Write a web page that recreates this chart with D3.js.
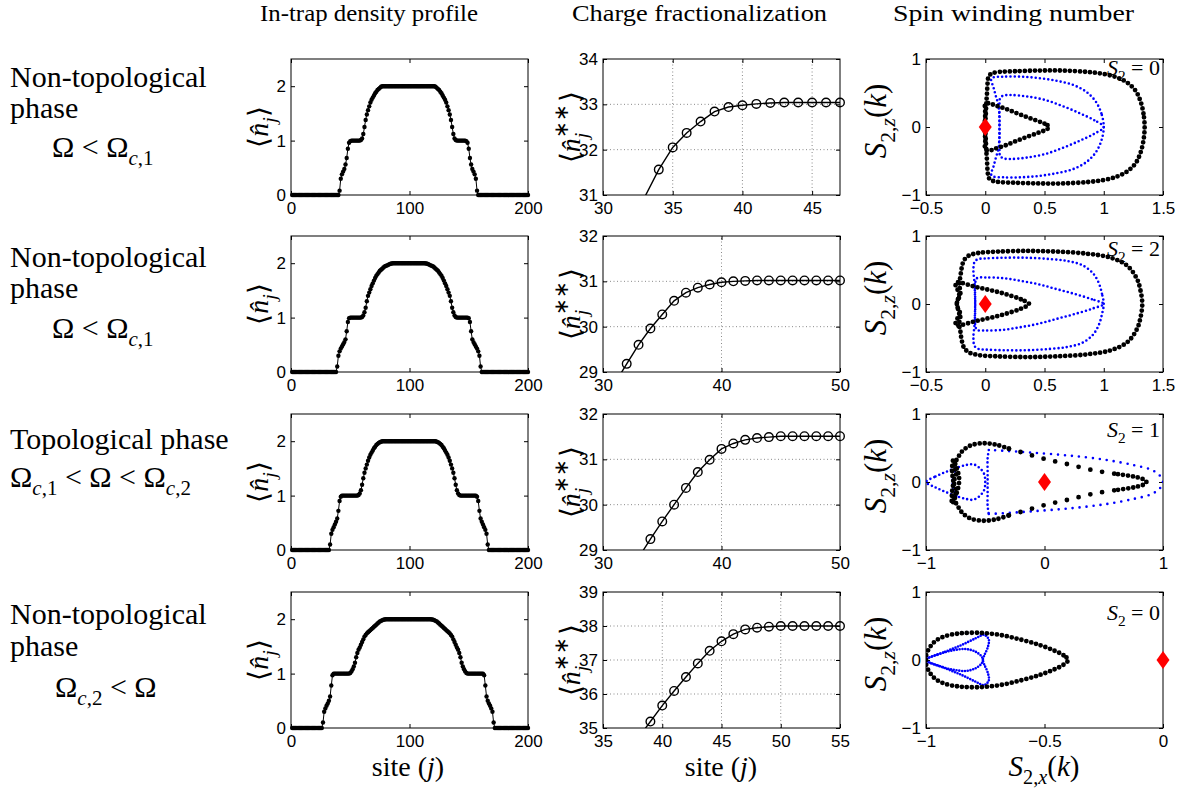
<!DOCTYPE html>
<html><head><meta charset="utf-8">
<script src="https://cdn.jsdelivr.net/npm/d3@7"></script>
<style>body{margin:0;background:#fff}svg{display:block}</style>
</head><body><svg id="fig" width="1181" height="788"></svg>
<script>
// ---- In-trap density profiles <n_j>, sites 1..200 ----
const sites = d3.range(1, 201);
const density1 = [
0,0,0,0,0,0,0,0,0,0,0,0,0,0,0,0,0,0,0,0,
0,0,0,0,0,0,0,0,0,0,0,0,0,0,0,0,0,0,0,0,
0.08,0.3,0.38,0.43,0.48,0.56,0.68,0.85,0.96,0.99,1,1,1,1,1,1,1,1,1.01,1.04,
1.12,1.25,1.38,1.48,1.56,1.63,1.7,1.75,1.79,1.83,1.87,1.9,1.93,1.95,1.97,1.99,2,2,2,2,
2,2,2,2,2,2,2,2,2,2,2,2,2,2,2,2,2,2,2,2,
2,2,2,2,2,2,2,2,2,2,2,2,2,2,2,2,2,2,2,2,
2,1.99,1.97,1.95,1.93,1.9,1.87,1.83,1.79,1.75,1.7,1.63,1.56,1.48,1.38,1.25,1.12,1.04,1.01,1,
1,1,1,1,1,1,1,0.99,0.96,0.85,0.68,0.56,0.48,0.43,0.38,0.3,0.08,0,0,0,
0,0,0,0,0,0,0,0,0,0,0,0,0,0,0,0,0,0,0,0,
0,0,0,0,0,0,0,0,0,0,0,0,0,0,0,0,0,0,0,0];
const density2 = [
0,0,0,0,0,0,0,0,0,0,0,0,0,0,0,0,0,0,0,0,
0,0,0,0,0,0,0,0,0,0,0,0,0,0,0,0,0,0,0.1,0.3,
0.38,0.43,0.47,0.51,0.55,0.6,0.75,0.92,0.99,1,1,1,1,1,1,1,1,1,1,1.01,
1.04,1.1,1.18,1.3,1.4,1.46,1.52,1.58,1.63,1.68,1.73,1.77,1.8,1.83,1.86,1.88,1.9,1.92,1.94,1.95,
1.96,1.97,1.98,1.99,1.995,2,2,2,2,2,2,2,2,2,2,2,2,2,2,2,
2,2,2,2,2,2,2,2,2,2,2,2,2,1.995,1.99,1.98,1.97,1.96,1.95,1.94,
1.92,1.9,1.88,1.86,1.83,1.8,1.77,1.73,1.68,1.63,1.58,1.52,1.46,1.4,1.3,1.18,1.1,1.04,1.01,1,
1,1,1,1,1,1,1,1,1,0.99,0.92,0.75,0.6,0.55,0.51,0.47,0.43,0.38,0.3,0.1,
0,0,0,0,0,0,0,0,0,0,0,0,0,0,0,0,0,0,0,0,
0,0,0,0,0,0,0,0,0,0,0,0,0,0,0,0,0,0,0,0];
const density3 = [
0,0,0,0,0,0,0,0,0,0,0,0,0,0,0,0,0,0,0,0,
0,0,0,0,0,0,0,0,0,0,0,0,0.1,0.3,0.37,0.42,0.47,0.52,0.58,0.72,
0.9,0.98,1,1,1,1,1,1,1,1,1,1,1,1,1,1,1.01,1.04,1.1,1.2,
1.32,1.42,1.5,1.57,1.64,1.7,1.75,1.79,1.83,1.87,1.9,1.93,1.95,1.97,1.98,1.99,2,2,2,2,
2,2,2,2,2,2,2,2,2,2,2,2,2,2,2,2,2,2,2,2,
2,2,2,2,2,2,2,2,2,2,2,2,2,2,2,2,2,2,2,2,
2,2,1.99,1.98,1.97,1.95,1.93,1.9,1.87,1.83,1.79,1.75,1.7,1.64,1.57,1.5,1.42,1.32,1.2,1.1,
1.04,1.01,1,1,1,1,1,1,1,1,1,1,1,1,1,1,0.98,0.9,0.72,0.58,
0.52,0.47,0.42,0.37,0.3,0.1,0,0,0,0,0,0,0,0,0,0,0,0,0,0,
0,0,0,0,0,0,0,0,0,0,0,0,0,0,0,0,0,0,0,0];
const density4 = [
0,0,0,0,0,0,0,0,0,0,0,0,0,0,0,0,0,0,0,0,
0,0,0,0,0,0,0.1,0.3,0.36,0.41,0.45,0.5,0.58,0.78,0.97,1,1,1,1,1,
1,1,1,1,1,1,1,1,1,1.01,1.04,1.08,1.13,1.2,1.3,1.38,1.44,1.48,1.53,1.58,
1.63,1.68,1.71,1.74,1.76,1.78,1.8,1.82,1.84,1.86,1.88,1.9,1.92,1.94,1.96,1.97,1.98,1.99,1.995,2,
2,2,2,2,2,2,2,2,2,2,2,2,2,2,2,2,2,2,2,2,
2,2,2,2,2,2,2,2,2,2,2,2,2,2,2,2,2,2,1.995,1.99,
1.98,1.97,1.96,1.94,1.92,1.9,1.88,1.86,1.84,1.82,1.8,1.78,1.76,1.74,1.71,1.68,1.63,1.58,1.53,1.48,
1.44,1.38,1.3,1.2,1.13,1.08,1.04,1.01,1,1,1,1,1,1,1,1,1,1,1,1,
1,1,0.97,0.78,0.58,0.5,0.45,0.41,0.36,0.3,0.1,0,0,0,0,0,0,0,0,0,
0,0,0,0,0,0,0,0,0,0,0,0,0,0,0,0,0,0,0,0];

// ---- Charge fractionalization <n_j**> ----
const fracSites1 = d3.range(33, 48);
const frac1 = [30.96,31.56,32.05,32.37,32.62,32.84,32.94,32.98,33.01,33.03,33.04,33.04,33.04,33.04,33.04];
const fracSites2 = d3.range(31, 51);
const frac2 = [28.75,29.18,29.6,29.96,30.27,30.57,30.75,30.86,30.93,30.98,31.0,31.01,31.02,31.02,31.02,31.02,31.02,31.02,31.02,31.02];
const fracSites3 = d3.range(33, 51);
const frac3 = [28.83,29.24,29.63,30.0,30.37,30.72,30.99,31.23,31.35,31.43,31.47,31.49,31.51,31.51,31.51,31.51,31.51,31.51];
const fracSites4 = d3.range(38, 56);
const frac4 = [34.72,35.19,35.66,36.09,36.5,36.9,37.27,37.55,37.76,37.9,37.95,37.98,38.0,38.0,38.0,38.0,38.0,38.0];

// ---- Spin winding curves (S_2,x , S_2,z) ----
const black1a = [[1.345,0],[1.335,0.2],[1.31,0.38],[1.27,0.53],[1.2,0.65],[1.11,0.73],[1.0,0.78],[0.86,0.81],[0.65,0.83],[0.45,0.83],[0.25,0.82],[0.12,0.81],[0.06,0.79],[0.03,0.75],[0.02,0.65],[0.015,0.5],[0.01,0.38],[0.005,0.2],[0.0,0],[0.005,-0.2],[0.01,-0.38],[0.015,-0.5],[0.02,-0.65],[0.03,-0.75],[0.06,-0.79],[0.12,-0.81],[0.25,-0.82],[0.45,-0.83],[0.65,-0.83],[0.86,-0.81],[1.0,-0.78],[1.11,-0.73],[1.2,-0.65],[1.27,-0.53],[1.31,-0.38],[1.335,-0.2]];
const black1b = [[0.54,0],[0.5,0.05],[0.44,0.09],[0.36,0.14],[0.27,0.2],[0.17,0.27],[0.08,0.32],[0.03,0.35],[0.0,0.33],[0.0,0.2],[-0.005,0],[0.0,-0.2],[0.0,-0.33],[0.03,-0.35],[0.08,-0.32],[0.17,-0.27],[0.27,-0.2],[0.36,-0.14],[0.44,-0.09],[0.5,-0.05]];
const blue1a = [[1.0,0],[0.98,0.2],[0.93,0.38],[0.85,0.52],[0.74,0.62],[0.6,0.68],[0.45,0.72],[0.3,0.74],[0.15,0.74],[0.07,0.73],[0.05,0.7],[0.07,0.58],[0.09,0.45],[0.11,0.33],[0.12,0.15],[0.12,0],[0.12,-0.15],[0.11,-0.33],[0.09,-0.45],[0.07,-0.58],[0.05,-0.7],[0.07,-0.73],[0.15,-0.74],[0.3,-0.74],[0.45,-0.72],[0.6,-0.68],[0.74,-0.62],[0.85,-0.52],[0.93,-0.38],[0.98,-0.2]];
const blue1b = [[1.0,0],[0.92,0.1],[0.8,0.2],[0.65,0.31],[0.5,0.4],[0.35,0.45],[0.22,0.47],[0.15,0.46],[0.125,0.42],[0.12,0.3],[0.12,0],[0.12,-0.3],[0.125,-0.42],[0.15,-0.46],[0.22,-0.47],[0.35,-0.45],[0.5,-0.4],[0.65,-0.31],[0.8,-0.2],[0.92,-0.1]];

const black2a = [[1.325,0],[1.31,0.2],[1.28,0.37],[1.2,0.56],[1.06,0.68],[0.86,0.74],[0.6,0.77],[0.35,0.78],[0.1,0.77],[-0.06,0.75],[-0.14,0.71],[-0.18,0.64],[-0.2,0.52],[-0.21,0.4],[-0.22,0.3],[-0.21,0.15],[-0.24,0],[-0.21,-0.15],[-0.22,-0.3],[-0.21,-0.4],[-0.2,-0.52],[-0.18,-0.64],[-0.14,-0.71],[-0.06,-0.75],[0.1,-0.77],[0.35,-0.78],[0.6,-0.77],[0.86,-0.74],[1.06,-0.68],[1.2,-0.56],[1.28,-0.37],[1.31,-0.2]];
const black2b = [[0.37,0],[0.3,0.07],[0.2,0.13],[0.1,0.18],[0.0,0.22],[-0.1,0.26],[-0.2,0.31],[-0.245,0.32],[-0.25,0.27],[-0.22,0.15],[-0.24,0],[-0.22,-0.15],[-0.25,-0.27],[-0.245,-0.32],[-0.2,-0.31],[-0.1,-0.26],[0.0,-0.22],[0.1,-0.18],[0.2,-0.13],[0.3,-0.07]];
const blue2a = [[1.0,0],[0.985,0.15],[0.96,0.3],[0.91,0.45],[0.82,0.57],[0.7,0.63],[0.55,0.66],[0.35,0.68],[0.15,0.68],[0.0,0.67],[-0.06,0.66],[-0.09,0.62],[-0.1,0.5],[-0.09,0.3],[-0.085,0.1],[-0.085,-0.1],[-0.09,-0.3],[-0.1,-0.5],[-0.09,-0.62],[-0.06,-0.66],[0.0,-0.67],[0.15,-0.68],[0.35,-0.68],[0.55,-0.66],[0.7,-0.63],[0.82,-0.57],[0.91,-0.45],[0.96,-0.3],[0.985,-0.15]];
const blue2b = [[1.0,0],[0.9,0.07],[0.75,0.15],[0.6,0.22],[0.45,0.29],[0.3,0.34],[0.15,0.38],[0.0,0.39],[-0.07,0.38],[-0.085,0.3],[-0.085,0],[-0.085,-0.3],[-0.07,-0.38],[0.0,-0.39],[0.15,-0.38],[0.3,-0.34],[0.45,-0.29],[0.6,-0.22],[0.75,-0.15],[0.9,-0.07]];

// topological case: dense near the left knot, sparse along the long upper/lower arms
const black3left = [[-0.3,0.49],[-0.4,0.545],[-0.51,0.57],[-0.62,0.54],[-0.69,0.46],[-0.73,0.36],[-0.76,0.25],[-0.745,0.12],[-0.765,0],[-0.745,-0.12],[-0.76,-0.25],[-0.73,-0.36],[-0.69,-0.46],[-0.62,-0.54],[-0.51,-0.57],[-0.4,-0.545],[-0.3,-0.49]];
const black3upper = [[-0.3,0.49],[-0.2,0.44],[0.0,0.34],[0.2,0.26],[0.42,0.17],[0.62,0.115]];
const black3lower = [[-0.3,-0.49],[-0.2,-0.44],[0.0,-0.34],[0.2,-0.26],[0.42,-0.17],[0.62,-0.115]];
const black3tip = [[0.62,0.115],[0.72,0.09],[0.79,0.065],[0.84,0.035],[0.86,0],[0.84,-0.035],[0.79,-0.065],[0.72,-0.09],[0.62,-0.115]];
const black3knot = [[-0.77,0.32],[-0.74,0.2],[-0.72,0.05],[-0.73,-0.1],[-0.76,-0.25],[-0.78,-0.32],[-0.78,-0.15],[-0.77,0],[-0.78,0.15]];
const blue3arm = [[-0.47,-0.47],[-0.35,-0.46],[-0.1,-0.43],[0.2,-0.39],[0.5,-0.33],[0.75,-0.25],[0.9,-0.18],[0.97,-0.1],[1.0,0],[0.97,0.1],[0.9,0.18],[0.75,0.25],[0.5,0.33],[0.2,0.39],[-0.1,0.43],[-0.35,0.46],[-0.47,0.47]];
const blue3bar = [[-0.47,0.47],[-0.48,0.35],[-0.48,0.15],[-0.48,0],[-0.48,-0.15],[-0.48,-0.35],[-0.47,-0.47]];
const blue3lens = [[-1,0],[-0.92,0.08],[-0.83,0.15],[-0.74,0.21],[-0.66,0.25],[-0.6,0.26],[-0.55,0.21],[-0.51,0.12],[-0.5,0],[-0.51,-0.12],[-0.55,-0.21],[-0.6,-0.26],[-0.66,-0.25],[-0.74,-0.21],[-0.83,-0.15],[-0.92,-0.08]];
const blue3inner = [[-0.74,0.21],[-0.77,0.1],[-0.775,0],[-0.77,-0.1],[-0.74,-0.21]];

const black4a = [[-0.4,0],[-0.42,0.07],[-0.46,0.14],[-0.52,0.22],[-0.6,0.3],[-0.69,0.37],[-0.78,0.4],[-0.86,0.39],[-0.92,0.35],[-0.96,0.28],[-0.985,0.18],[-1,0.06],[-1,0],[-1,-0.06],[-0.985,-0.18],[-0.96,-0.28],[-0.92,-0.35],[-0.86,-0.39],[-0.78,-0.4],[-0.69,-0.37],[-0.6,-0.3],[-0.52,-0.22],[-0.46,-0.14],[-0.42,-0.07]];
const blue4a = [[-1,0],[-0.92,0.12],[-0.85,0.22],[-0.79,0.32],[-0.755,0.37],[-0.735,0.3],[-0.74,0.18],[-0.755,0.06],[-0.76,0],[-0.755,-0.06],[-0.74,-0.18],[-0.735,-0.3],[-0.755,-0.37],[-0.79,-0.32],[-0.85,-0.22],[-0.92,-0.12]];
const blue4b = [[-1,0],[-0.95,0.08],[-0.89,0.14],[-0.83,0.16],[-0.79,0.12],[-0.765,0.05],[-0.76,0],[-0.765,-0.05],[-0.79,-0.12],[-0.83,-0.16],[-0.89,-0.14],[-0.95,-0.08]];

const origin = [0, 0];
const windingNumbers = ["0", "2", "1", "0"];

// ---- layout ----
const svg = d3.select("#fig");
const colL = [291, 603, 926], rowT = [59, 236, 414, 592], PW = 237, PH = 136;
const windingLabelDrop = [16, 20, 23, 28];
const SANS = "Liberation Sans, Arial, sans-serif";
const SERIF = "Liberation Serif, Times New Roman, serif";

// rich text with sub/superscripts: parts = [text, kind('n'|'sub'|'sup'), italic, dx]
function rich(parent, x, y, parts, size, anchor, rotate) {
  const t = parent.append("text")
    .attr("font-family", SERIF).attr("font-size", size)
    .attr("text-anchor", anchor || "start").attr("fill", "#000");
  if (rotate) t.attr("transform", `translate(${x},${y}) rotate(-90)`);
  else t.attr("x", x).attr("y", y);
  let shift = 0;
  parts.forEach(([s, kind, it, dx]) => {
    const target = kind === "sub" ? 0.28 * size : kind === "sup" ? -0.42 * size : 0;
    const ts = t.append("tspan").attr("dy", target - shift)
      .attr("font-size", kind === "n" ? size : size * 0.7)
      .attr("font-style", it ? "italic" : "normal").text(s);
    if (dx) ts.attr("dx", dx);
    shift = target;
  });
  return t;
}

function axes(g, x, y, xt, yt, grid) {
  const [x0, x1] = x.range(), [y0, y1] = y.range();
  if (grid) {
    g.append("g").selectAll("line").data(xt.filter(v => v > x.domain()[0] && v < x.domain()[1])).join("line")
      .attr("x1", d => x(d)).attr("x2", d => x(d)).attr("y1", y0).attr("y2", y1)
      .attr("stroke", "#8a8a8a").attr("stroke-width", 1).attr("stroke-dasharray", "1,2.5");
    g.append("g").selectAll("line").data(yt.filter(v => v > y.domain()[0] && v < y.domain()[1])).join("line")
      .attr("y1", d => y(d)).attr("y2", d => y(d)).attr("x1", x0).attr("x2", x1)
      .attr("stroke", "#8a8a8a").attr("stroke-width", 1).attr("stroke-dasharray", "1,2.5");
  }
  const fmt = d3.format("");
  const style = a => a.call(s => s.select(".domain").remove())
    .attr("font-family", SANS).attr("font-size", 17)
    .call(s => s.selectAll("line").attr("stroke", "#000"));
  g.append("g").attr("transform", `translate(0,${y0})`)
    .call(d3.axisBottom(x).tickValues(xt).tickFormat(fmt).tickSizeInner(-4).tickSizeOuter(0).tickPadding(7)).call(style);
  g.append("g").attr("transform", `translate(0,${y1})`)
    .call(d3.axisTop(x).tickValues(xt).tickFormat("").tickSizeInner(-4).tickSizeOuter(0)).call(style);
  g.append("g").attr("transform", `translate(${x0},0)`)
    .call(d3.axisLeft(y).tickValues(yt).tickFormat(fmt).tickSizeInner(-4).tickSizeOuter(0).tickPadding(5)).call(style);
  g.append("g").attr("transform", `translate(${x1},0)`)
    .call(d3.axisRight(y).tickValues(yt).tickFormat("").tickSizeInner(-4).tickSizeOuter(0)).call(style);
  g.selectAll(".tick text").attr("fill", "#000");
  g.append("rect").attr("x", x0).attr("y", y1).attr("width", x1 - x0).attr("height", y0 - y1)
    .attr("fill", "none").attr("stroke", "#000").attr("stroke-width", 1);
}

function clipFor(id, x, y) {
  svg.append("clipPath").attr("id", id).append("rect")
    .attr("x", x.range()[0]).attr("y", y.range()[1])
    .attr("width", x.range()[1] - x.range()[0]).attr("height", y.range()[0] - y.range()[1]);
  return `url(#${id})`;
}

// ---- column titles ----
[["In-trap density profile", 260, 218], ["Charge fractionalization", 572, 255], ["Spin winding number", 893, 241]]
  .forEach(([s, x, w]) => svg.append("text").attr("x", x).attr("y", 21).attr("font-family", SERIF)
    .attr("font-size", 24).attr("textLength", w).attr("lengthAdjust", "spacingAndGlyphs").text(s));

// ---- row labels ----
const O = "\u03A9";
const rowLabels = [
  [[10, 87, [["Non-topological", "n"]]], [10, 118, [["phase", "n"]]], [52, 157, [[O + " < " + O, "n"], ["c", "sub", true], [",1", "sub"]]]],
  [[10, 267, [["Non-topological", "n"]]], [10, 298, [["phase", "n"]]], [52, 338, [[O + " < " + O, "n"], ["c", "sub", true], [",1", "sub"]]]],
  [[10, 449, [["Topological phase", "n"]]], [10, 487, [[O, "n"], ["c", "sub", true], [",1", "sub"], [" < " + O + " < " + O, "n"], ["c", "sub", true], [",2", "sub"]]]],
  [[10, 624, [["Non-topological", "n"]]], [10, 656, [["phase", "n"]]], [55, 697, [[O, "n"], ["c", "sub", true], [",2", "sub"], [" < " + O, "n"]]]]
];
rowLabels.forEach(lines => lines.forEach(([x, y, parts]) => rich(svg, x, y, parts, 30, "start")));

// ---- panels ----
const densities = [density1, density2, density3, density4];
const fracs = [[fracSites1, frac1, [30, 47], [31, 34], [30, 35, 40, 45], [31, 32, 33, 34]],
               [fracSites2, frac2, [30, 50], [29, 32], [30, 40, 50], [29, 30, 31, 32]],
               [fracSites3, frac3, [30, 50], [29, 32], [30, 40, 50], [29, 30, 31, 32]],
               [fracSites4, frac4, [35, 55], [35, 39], [35, 40, 45, 50, 55], [35, 36, 37, 38, 39]]];
// curve entries: [points, closed, kind ('k' dense black, 'ks' sparse black, 'b' blue, 'bs' sparse blue, 'bd' denser blue)]
const spins = [
  {xd: [-0.5, 1.5], xt: [-0.5, 0, 0.5, 1, 1.5], curves: [[blue1a, true, "b"], [blue1b, true, "b"], [black1a, true, "k"], [black1b, true, "k"]]},
  {xd: [-0.5, 1.5], xt: [-0.5, 0, 0.5, 1, 1.5], curves: [[blue2a, true, "b"], [blue2b, true, "b"], [black2a, true, "k"], [black2b, true, "k"]]},
  {xd: [-1, 1], xt: [-1, 0, 1], curves: [[blue3arm, false, "bs"], [blue3bar, false, "b"], [blue3lens, true, "b"], [blue3inner, false, "b"],
     [black3left, false, "k"], [black3upper, false, "ks"], [black3lower, false, "ks"], [black3tip, false, "k"], [black3knot, true, "k"]]},
  {xd: [-1, 0], xt: [-1, -0.5, 0], curves: [[blue4a, true, "bd"], [blue4b, true, "bd"], [black4a, true, "k"]]}
];
const dotStyle = {
  k: {c: "#000", w: 4.8, d: "0 5"},
  ks: {c: "#000", w: 4.8, d: "0 12"},
  b: {c: "#0000ff", w: 2.6, d: "0 4.2"},
  bs: {c: "#0000ff", w: 2.6, d: "0 7"},
  bd: {c: "#0000ff", w: 2.6, d: "0 2.8"}
};

rowT.forEach((top, r) => {
  const bottom = top + PH;
  const mid = top + PH / 2;

  // density profile
  {
    const g = svg.append("g");
    const x = d3.scaleLinear().domain([0, 200]).range([colL[0], colL[0] + PW]);
    const y = d3.scaleLinear().domain([0, 2.5]).range([bottom, top]);
    axes(g, x, y, [0, 100, 200], [0, 1, 2], false);
    const data = sites.map((s, i) => [s, densities[r][i]]);
    const pg = g.append("g").attr("clip-path", clipFor("cd" + r, x, y));
    pg.append("path").attr("d", d3.line().x(d => x(d[0])).y(d => y(d[1]))(data))
      .attr("fill", "none").attr("stroke", "#000").attr("stroke-width", 1);
    g.append("g").selectAll("circle").data(data).join("circle")
      .attr("cx", d => x(d[0])).attr("cy", d => y(d[1])).attr("r", 2.2).attr("fill", "#000");
    rich(g, 268, mid, [["\u27E8", "n"], ["n\u0302", "n", true], ["j", "sub", true], ["\u27E9", "n"]], 28, "middle", true);
  }

  // charge fractionalization
  {
    const [fs, fv, xd, yd, xt, yt] = fracs[r];
    const g = svg.append("g");
    const x = d3.scaleLinear().domain(xd).range([colL[1], colL[1] + PW]);
    const y = d3.scaleLinear().domain(yd).range([bottom, top]);
    axes(g, x, y, xt, yt, true);
    const data = fs.map((s, i) => [s, fv[i]]);
    const pg = g.append("g").attr("clip-path", clipFor("cf" + r, x, y));
    pg.append("path").attr("d", d3.line().x(d => x(d[0])).y(d => y(d[1]))(data))
      .attr("fill", "none").attr("stroke", "#000").attr("stroke-width", 1.4);
    g.append("g").selectAll("circle").data(data.filter(d => d[1] >= yd[0] && d[1] <= yd[1] && d[0] >= xd[0] && d[0] <= xd[1])).join("circle")
      .attr("cx", d => x(d[0])).attr("cy", d => y(d[1])).attr("r", 4.3)
      .attr("fill", "none").attr("stroke", "#000").attr("stroke-width", 1.4);
    rich(g, 580, mid, [["\u27E8", "n"], ["n\u0302", "n", true], ["j", "sub", true], ["\u2217\u2217", "sup", false, -5], ["\u27E9", "n", false, 2]], 28, "middle", true);
  }

  // spin winding
  {
    const sp = spins[r];
    const g = svg.append("g");
    const x = d3.scaleLinear().domain(sp.xd).range([colL[2], colL[2] + PW]);
    const y = d3.scaleLinear().domain([-1, 1]).range([bottom, top]);
    axes(g, x, y, sp.xt, [-1, 0, 1], false);
    const pg = g.append("g").attr("clip-path", clipFor("cs" + r, x, y));
    const lc = d3.line().x(d => x(d[0])).y(d => y(d[1])).curve(d3.curveCatmullRomClosed.alpha(0.5));
    const lo = d3.line().x(d => x(d[0])).y(d => y(d[1])).curve(d3.curveCatmullRom.alpha(0.5));
    sp.curves.forEach(([pts, closed, kind]) => {
      const st = dotStyle[kind];
      pg.append("path").attr("d", (closed ? lc : lo)(pts))
        .attr("fill", "none").attr("stroke", st.c).attr("stroke-width", st.w)
        .attr("stroke-linecap", "round").attr("stroke-dasharray", st.d);
    });
    // red diamond at the origin
    const cx = x(origin[0]), cy = y(origin[1]);
    g.append("path").attr("d", `M${cx},${cy - 9}L${cx + 6.5},${cy}L${cx},${cy + 9}L${cx - 6.5},${cy}Z`).attr("fill", "#ff0000");
    rich(g, 1160, top + windingLabelDrop[r], [["S", "n", true], ["2", "sub"], [" = " + windingNumbers[r], "n"]], 22, "end");
    rich(g, 886, mid - 6, [["S", "n", true], ["2,", "sub"], ["z", "sub", true], ["(", "n"], ["k", "n", true], [")", "n"]], 31, "middle", true);
  }
});

// ---- bottom x labels ----
rich(svg, 408, 776, [["site (", "n"], ["j", "n", true], [")", "n"]], 28, "middle");
rich(svg, 721, 776, [["site  (", "n"], ["j", "n", true], [")", "n"]], 28, "middle");
rich(svg, 1044, 776, [["S", "n", true], ["2,", "sub"], ["x", "sub", true], ["(", "n"], ["k", "n", true], [")", "n"]], 29, "middle");
</script></body></html>
